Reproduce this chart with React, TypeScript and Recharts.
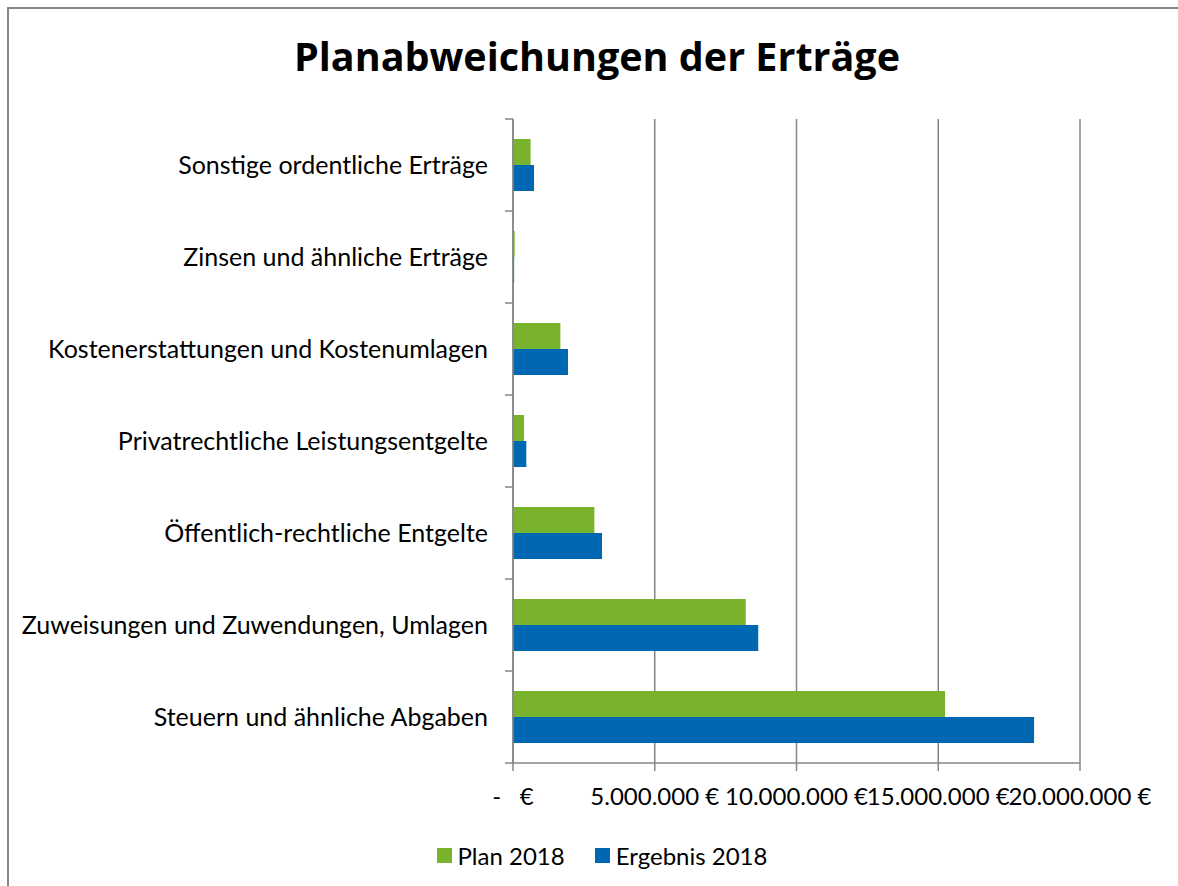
import React from "react";
import {
  BarChart,
  Bar,
  XAxis,
  YAxis,
  CartesianGrid,
} from "recharts";

// categories, top to bottom
const categories = [
  "Sonstige ordentliche Erträge",
  "Zinsen und ähnliche Erträge",
  "Kostenerstattungen und Kostenumlagen",
  "Privatrechtliche Leistungsentgelte",
  "Öffentlich-rechtliche Entgelte",
  "Zuweisungen und Zuwendungen, Umlagen",
  "Steuern und ähnliche Abgaben",
];

// values in euro
const plan2018 = [620000, 60000, 1670000, 390000, 2870000, 8210000, 15240000];
const ergebnis2018 = [740000, 40000, 1940000, 470000, 3140000, 8650000, 18380000];

const xTicks = [0, 5000000, 10000000, 15000000, 20000000];
const xTickLabels = ["-   €", "5.000.000 €", "10.000.000 €", "15.000.000 €", "20.000.000 €"];

const seriesNames = ["Plan 2018", "Ergebnis 2018"];
const seriesColors = ["#78B32B", "#0068B3"];

const FONT = "Lato, 'Open Sans', sans-serif";
const TITLE_FONT = "'Open Sans', Lato, sans-serif";
const AXIS_GREY = "#868686";
const TICK_SIZE = 8;
const TICK_MARGIN = 17;

const data = categories.map((name, i) => ({
  name,
  plan: plan2018[i],
  ergebnis: ergebnis2018[i],
}));

interface TickProps {
  x?: number;
  y?: number;
  height?: number;
  index?: number;
  visibleTicksCount?: number;
  payload?: { value: string | number; offset?: number };
}

const CategoryTick: React.FC<TickProps> = ({ x = 0, y = 0, height = 0, index = 0, visibleTicksCount = 1, payload }) => {
  const half = payload?.offset ?? height / (visibleTicksCount * 2);
  const ax = x + TICK_MARGIN;
  const last = index === visibleTicksCount - 1;
  return (
    <g>
      <line x1={ax} x2={ax + TICK_SIZE} y1={y - half} y2={y - half} stroke={AXIS_GREY} strokeWidth={1.5} />
      {last && (
        <line x1={ax} x2={ax + TICK_SIZE} y1={y + half} y2={y + half} stroke={AXIS_GREY} strokeWidth={1.5} />
      )}
      <text x={x} y={y} dy="0.35em" textAnchor="end" fontSize={25} fontFamily={FONT} fill="#000">
        {String(payload?.value ?? "")}
      </text>
    </g>
  );
};

const ValueTick: React.FC<TickProps> = ({ x = 0, y = 0, payload }) => {
  const idx = xTicks.indexOf(Number(payload?.value));
  const label = idx >= 0 ? xTickLabels[idx] : String(payload?.value ?? "");
  return (
    <text
      x={x}
      y={y}
      dy="0.71em"
      textAnchor="middle"
      fontSize={24}
      fontFamily={FONT}
      fill="#000"
      style={{ whiteSpace: "pre" }}
    >
      {label}
    </text>
  );
};

export default function App() {
  return (
    <div
      style={{
        position: "absolute",
        left: 7,
        top: 7,
        width: 1171,
        height: 879,
        boxSizing: "border-box",
        borderLeft: `2px solid ${AXIS_GREY}`,
        borderTop: `2px solid ${AXIS_GREY}`,
        background: "#fff",
        overflow: "hidden",
      }}
    >
      <div
        style={{
          position: "absolute",
          left: 0,
          top: 22,
          width: 1176,
          textAlign: "center",
          fontFamily: TITLE_FONT,
          fontWeight: 700,
          fontSize: 39.5,
          lineHeight: "50px",
          color: "#000",
        }}
      >
        Planabweichungen der Erträge
      </div>
      <BarChart
        width={1170}
        height={878}
        data={data}
        layout="vertical"
        barGap={0}
        barSize={26}
        margin={{ top: 110, right: 99, left: 0, bottom: 84 }}
      >
        <CartesianGrid horizontal={false} stroke={AXIS_GREY} strokeWidth={1.5} />
        <XAxis
          type="number"
          domain={[0, 20000000]}
          ticks={xTicks}
          interval={0}
          height={40}
          tickSize={TICK_SIZE}
          tickMargin={17}
          axisLine={{ stroke: AXIS_GREY, strokeWidth: 1.5 }}
          tickLine={{ stroke: AXIS_GREY, strokeWidth: 1.5 }}
          tick={<ValueTick />}
        />
        <YAxis
          type="category"
          dataKey="name"
          width={504}
          interval={0}
          tickSize={TICK_SIZE}
          tickMargin={TICK_MARGIN}
          tickLine={false}
          axisLine={{ stroke: AXIS_GREY, strokeWidth: 1.5 }}
          tick={<CategoryTick />}
        />
        <Bar dataKey="plan" name={seriesNames[0]} fill={seriesColors[0]} isAnimationActive={false} />
        <Bar dataKey="ergebnis" name={seriesNames[1]} fill={seriesColors[1]} isAnimationActive={false} />
      </BarChart>
      <div
        style={{
          position: "absolute",
          left: 0,
          top: 832,
          width: 1186,
          display: "flex",
          justifyContent: "center",
          fontFamily: FONT,
          fontSize: 24,
          color: "#000",
        }}
      >
        {seriesNames.map((n, i) => (
          <div key={n} style={{ display: "flex", alignItems: "center", marginRight: i === 0 ? 30 : 0 }}>
            <span style={{ display: "inline-block", width: 15, height: 15, background: seriesColors[i], marginRight: 6 }} />
            <span>{n}</span>
          </div>
        ))}
      </div>
    </div>
  );
}
